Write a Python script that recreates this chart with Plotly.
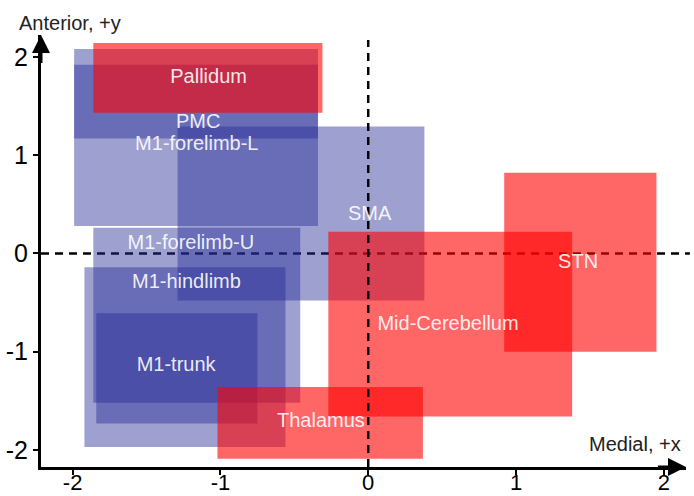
import plotly.graph_objects as go

# Regions (data units: x = medial, y = anterior)
blue_names = ["M1-forelimb-L", "PMC", "SMA", "M1-forelimb-U", "M1-hindlimb", "M1-trunk"]
blue_x0 = [-1.99, -1.99, -1.29, -1.86, -1.92, -1.84]
blue_x1 = [-0.34, -0.34, 0.38, -0.46, -0.56, -0.75]
blue_y0 = [0.28, 1.17, -0.48, -1.52, -1.97, -1.73]
blue_y1 = [2.08, 1.92, 1.29, 0.26, -0.14, -0.61]

red_names = ["Pallidum", "Thalamus", "Mid-Cerebellum", "STN"]
red_x0 = [-1.86, -1.02, -0.27, 0.92]
red_x1 = [-0.31, 0.37, 1.38, 1.95]
red_y0 = [1.43, -2.09, -1.66, -1.00]
red_y1 = [2.14, -1.36, 0.22, 0.82]

# Label positions
label_text = ["Pallidum", "PMC", "M1-forelimb-L", "SMA", "M1-forelimb-U",
              "M1-hindlimb", "M1-trunk", "Thalamus", "Mid-Cerebellum", "STN"]
label_x = [-1.08, -1.15, -1.16, 0.01, -1.20, -1.23, -1.30, -0.32, 0.54, 1.42]
label_y = [1.78, 1.33, 1.10, 0.39, 0.10, -0.30, -1.15, -1.72, -0.73, -0.10]

tick_vals = [-2, -1, 0, 1, 2]
tick_text = ["-2", "-1", "0", "1", "2"]

x_range = [-2.214, 2.150]
y_range = [-2.173, 2.222]

FONT = "Liberation Sans, Arial, sans-serif"

fig = go.Figure()

for x0, x1, y0, y1 in zip(blue_x0, blue_x1, blue_y0, blue_y1):
    fig.add_shape(type="rect", xref="x", yref="y", x0=x0, x1=x1, y0=y0, y1=y1,
                  fillcolor="rgb(40,45,150)", opacity=0.45, line=dict(width=0),
                  layer="below")
for x0, x1, y0, y1 in zip(red_x0, red_x1, red_y0, red_y1):
    fig.add_shape(type="rect", xref="x", yref="y", x0=x0, x1=x1, y0=y0, y1=y1,
                  fillcolor="rgb(255,0,0)", opacity=0.6, line=dict(width=0),
                  layer="below")

# dashed reference lines
fig.add_shape(type="line", xref="x", yref="y", x0=0, x1=0, y0=y_range[0], y1=2.17,
              line=dict(color="black", width=2.5, dash="8px,6px"), layer="below")
fig.add_shape(type="line", xref="paper", yref="y", x0=0, x1=1.006, y0=0, y1=0,
              line=dict(color="black", width=2.5, dash="8px,6px"), layer="below")

fig.add_trace(go.Scatter(
    x=label_x, y=label_y, text=label_text, mode="text",
    textfont=dict(family=FONT, size=20, color="rgba(255,255,255,0.9)"),
    hoverinfo="skip", showlegend=False, cliponaxis=False))

# axis arrows
fig.add_annotation(x=x_range[1], y=y_range[0], ax=x_range[1] - 0.2, ay=y_range[0],
                   xref="x", yref="y", axref="x", ayref="y", text="",
                   showarrow=True, arrowhead=2, arrowsize=1.2, arrowwidth=3,
                   arrowcolor="black", standoff=0)
fig.add_annotation(x=x_range[0], y=y_range[1], ax=x_range[0], ay=y_range[1] - 0.3,
                   xref="x", yref="y", axref="x", ayref="y", text="",
                   showarrow=True, arrowhead=2, arrowsize=1.2, arrowwidth=3,
                   arrowcolor="black", standoff=0)

# axis titles
fig.add_annotation(text="Anterior, +y", xref="paper", yref="paper",
                   x=-24 / 645, y=1 + 12 / 432, xanchor="left", yanchor="middle",
                   showarrow=False, font=dict(family=FONT, size=20, color="#222"))
fig.add_annotation(text="Medial, +x", xref="paper", yref="paper",
                   x=(683 - 41) / 645, y=(467 - 444) / 432, xanchor="right", yanchor="middle",
                   showarrow=False, font=dict(family=FONT, size=20, color="#222"))

axis_common = dict(
    tickvals=tick_vals, ticktext=tick_text, ticks="outside", ticklen=5,
    tickwidth=1.5, tickcolor="black", showgrid=False, zeroline=False,
    showline=True, linewidth=3, linecolor="black", fixedrange=True,
    automargin=False,
)

fig.update_layout(
    width=694, height=496,
    margin=dict(l=41, r=8, t=35, b=29),
    paper_bgcolor="white", plot_bgcolor="white",
    xaxis=dict(range=x_range, ticklabelstandoff=-11,
               tickfont=dict(family=FONT, size=22, color="black"), **axis_common),
    yaxis=dict(range=y_range,
               tickfont=dict(family=FONT, size=25, color="black"), **axis_common),
    showlegend=False,
)

fig.write_html("out.html")
